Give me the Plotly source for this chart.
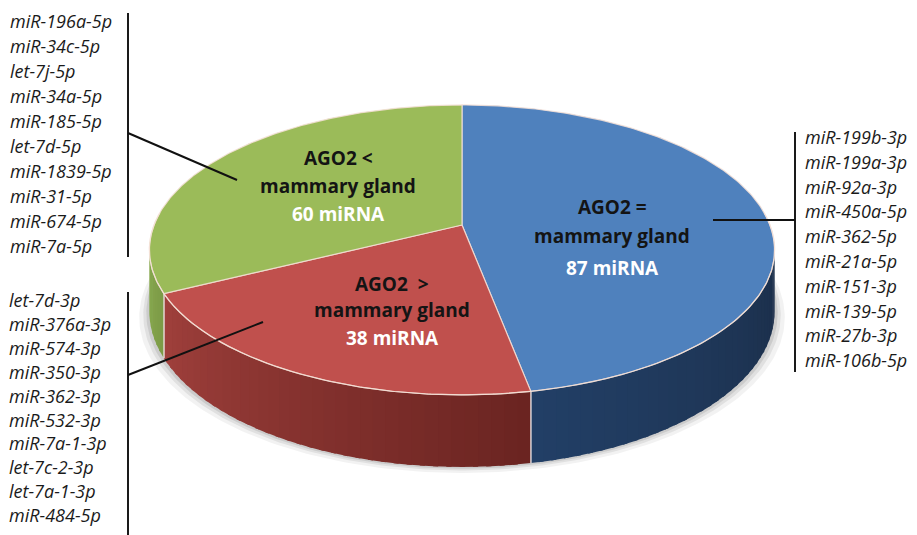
"""3-D style pie: AGO2 vs mammary gland miRNA groups, with miRNA lists."""

import numpy as np
import plotly.graph_objects as go

# ---- data ----
groups = ["AGO2 =", "AGO2  >", "AGO2 <"]
subtitle = "mammary gland"
counts = [87, 38, 60]

equal_list = ["miR-199b-3p", "miR-199a-3p", "miR-92a-3p", "miR-450a-5p", "miR-362-5p",
              "miR-21a-5p", "miR-151-3p", "miR-139-5p", "miR-27b-3p", "miR-106b-5p"]
greater_list = ["let-7d-3p", "miR-376a-3p", "miR-574-3p", "miR-350-3p", "miR-362-3p",
                "miR-532-3p", "miR-7a-1-3p", "let-7c-2-3p", "let-7a-1-3p", "miR-484-5p"]
less_list = ["miR-196a-5p", "miR-34c-5p", "let-7j-5p", "miR-34a-5p", "miR-185-5p",
             "let-7d-5p", "miR-1839-5p", "miR-31-5p", "miR-674-5p", "miR-7a-5p"]

# ---- style ----
TOP_COLORS = ["#4F81BD", "#C0504D", "#9BBB59"]
# side colour at start / end angle of each wedge (clockwise from 12 o'clock)
SIDE_COLORS = [("#1b2e49", "#223f66"), ("#6a2421", "#a0403c"), ("#7b9a46", "#8aab50")]
W, H = 917, 535
PAD = 8                     # page body margin: the plot div starts 8px in
CX, CY = 462, 225           # apex of the wedges (pixels in the page)
A, B, K = 308, 140.7, 0.172  # half-width, half-depth, perspective
DEPTH = 59.6
FONT = "Open Sans"


def hexrgb(h):
    h = h.lstrip("#")
    return np.array([int(h[i:i + 2], 16) for i in (0, 2, 4)], dtype=float)


def mix(c1, c2, t):
    c = hexrgb(c1) * (1 - t) + hexrgb(c2) * t
    return "rgb(%d,%d,%d)" % tuple(c.round())


def project(theta_deg, drop=0.0):
    th = np.radians(theta_deg)
    u, v = np.sin(th), -np.cos(th)
    s = 1.0 / (1.0 - K * v)
    return CX + A * u * s, CY + B * v * s + drop * DEPTH * s


fig = go.Figure()

total = sum(counts)
edges = np.concatenate([[0], np.cumsum(counts)]) / total * 360.0
vis_lo = np.degrees(np.arccos(-K))
vis_hi = 360 - vis_lo

# soft shadow under the pie
for grow, alpha in ((10, 0.05), (6, 0.07), (3, 0.09)):
    th = np.linspace(vis_lo - 20, vis_hi + 20, 200)
    xs, ys = project(th, 1.0)
    xs = CX + (xs - CX) * (1 + grow / A)
    ys = ys + grow * 0.6
    fig.add_trace(go.Scatter(x=np.concatenate([xs, [CX]]), y=np.concatenate([ys, [CY]]),
                             fill="toself", fillcolor="rgba(0,0,0,%.2f)" % alpha,
                             mode="lines", line=dict(width=0),
                             hoverinfo="skip", showlegend=False))

# side walls (front, visible part only), drawn as overlapping shaded strips
for i in range(len(counts)):
    t0, t1 = max(edges[i], vis_lo), min(edges[i + 1], vis_hi)
    if t1 <= t0:
        continue
    n = max(int((t1 - t0) / 2.0), 1)
    steps = np.linspace(t0, t1, n + 1)
    for j in range(n):
        th = np.linspace(steps[j], min(steps[j + 1] + 0.8, t1), 5)
        xt, yt = project(th)
        xb, yb = project(th[::-1], 1.0)
        col = mix(SIDE_COLORS[i][0], SIDE_COLORS[i][1], (j + 0.5) / n)
        fig.add_trace(go.Scatter(
            x=np.concatenate([xt, xb]), y=np.concatenate([yt, yb]),
            fill="toself", fillcolor=col, mode="lines",
            line=dict(color=col, width=0), hoverinfo="skip", showlegend=False))
    # seam at the wedge boundary on the wall
    for th in (edges[i], edges[i + 1]):
        if vis_lo < th < vis_hi:
            xs, ys = project(np.array([th, th]), np.array([0.0, 1.0]))
            fig.add_trace(go.Scatter(x=xs, y=ys, mode="lines",
                                     line=dict(color="rgba(235,225,225,0.9)", width=1.2),
                                     hoverinfo="skip", showlegend=False))

# top faces
for i in range(len(counts)):
    th = np.linspace(edges[i], edges[i + 1], 200)
    x, y = project(th)
    fig.add_trace(go.Scatter(
        x=np.concatenate([[CX], x, [CX]]), y=np.concatenate([[CY], y, [CY]]),
        fill="toself", fillcolor=TOP_COLORS[i], mode="lines",
        line=dict(color="rgba(245,225,215,0.85)", width=1.2),
        name=groups[i], hoverinfo="skip", showlegend=False))

# light rim along the front of the top face
th = np.linspace(vis_lo - 15, vis_hi + 15, 300)
x, y = project(th)
fig.add_trace(go.Scatter(x=x, y=y, mode="lines",
                         line=dict(color="rgba(245,225,215,0.8)", width=1.2),
                         hoverinfo="skip", showlegend=False))

# ---- labels inside wedges ----
label_pos = [(612, (207, 236, 268)), (392, (284, 310, 338)), (338, (158, 186, 214))]
for i, (lx, ys) in enumerate(label_pos):
    fig.add_annotation(x=lx, y=ys[0], text="<b>%s</b>" % groups[i], showarrow=False,
                       font=dict(family=FONT, size=19, color="#141414"))
    fig.add_annotation(x=lx, y=ys[1], text="<b>%s</b>" % subtitle, showarrow=False,
                       font=dict(family=FONT, size=19, color="#141414"))
    fig.add_annotation(x=lx, y=ys[2], text="<b>%d miRNA</b>" % counts[i], showarrow=False,
                       font=dict(family=FONT, size=19, color="#ffffff"))

# ---- miRNA lists with brackets and leaders ----
lists = [
    (equal_list, 804, 137, 24.8, (795, 132, 372), ((795, 220), (713, 220))),
    (greater_list, 8, 300, 23.9, (128, 292, 535), ((128, 375), (263, 322))),
    (less_list, 9, 21, 25.0, (128, 13, 257), ((128, 133), (237, 180))),
]
for names, tx, ty, dy, vline, leader in lists:
    for k, nm in enumerate(names):
        fig.add_annotation(x=tx, y=ty + k * dy, text="<i>%s</i>" % nm, showarrow=False,
                           xanchor="left", yanchor="middle", borderpad=0,
                           font=dict(family=FONT, size=18, color="#1a1a1a", weight=500))
    fig.add_shape(type="line", x0=vline[0], x1=vline[0], y0=vline[1], y1=vline[2],
                  line=dict(color="#1a1a1a", width=2))
    (x0, y0), (x1, y1) = leader
    fig.add_shape(type="line", x0=x0, y0=y0, x1=x1, y1=y1,
                  line=dict(color="#111111", width=2))

# axes span page pixels PAD..W / PAD..H so positions match the page
fig.update_xaxes(range=[PAD, W], visible=False, fixedrange=True)
fig.update_yaxes(range=[H, PAD], visible=False, fixedrange=True)
fig.update_layout(width=W - PAD, height=H - PAD, margin=dict(l=0, r=0, t=0, b=0),
                  plot_bgcolor="white", paper_bgcolor="white", showlegend=False)
fig.write_html("out.html")
